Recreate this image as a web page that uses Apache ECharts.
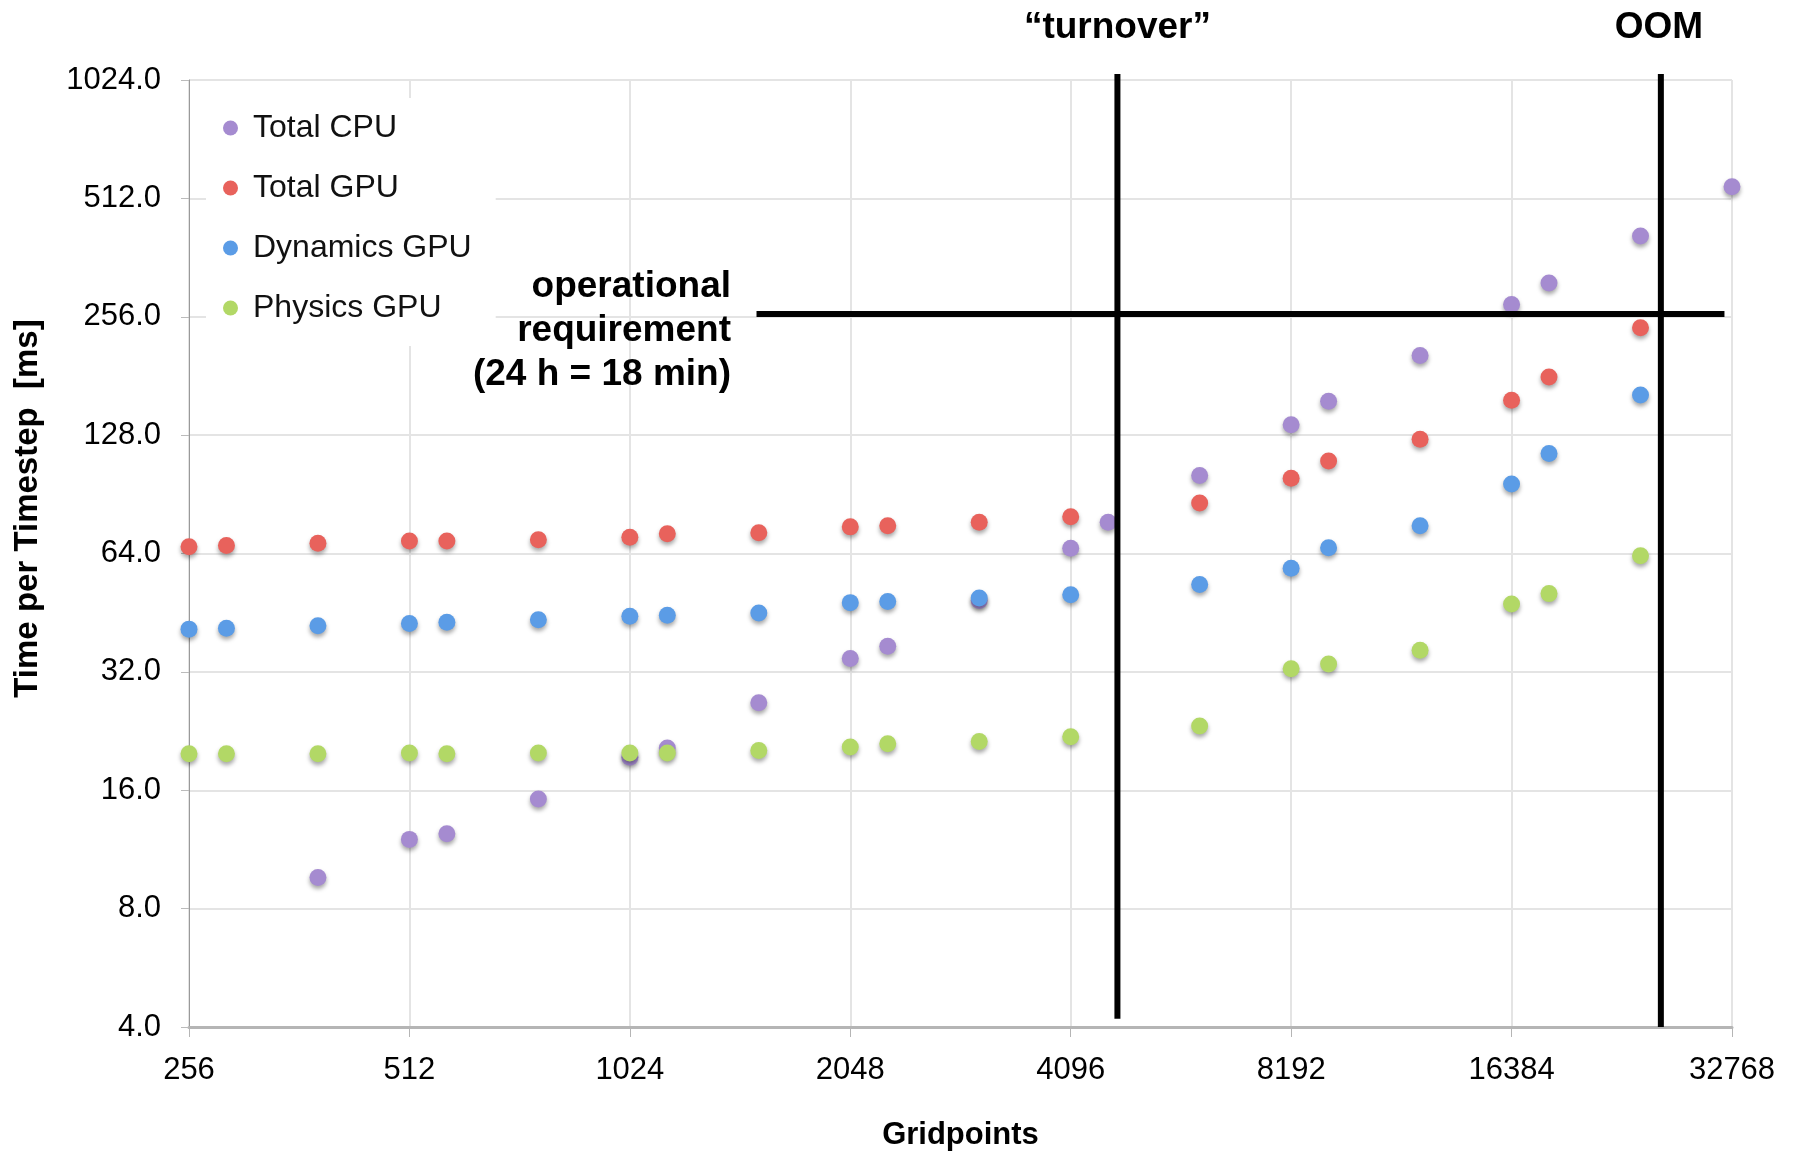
<!DOCTYPE html>
<html>
<head>
<meta charset="utf-8">
<title>Time per Timestep vs Gridpoints</title>
<script src="https://cdn.jsdelivr.net/npm/echarts@6/dist/echarts.min.js"></script>
<style>
  html, body { margin: 0; padding: 0; background: #fff; }
  #chart { width: 1797px; height: 1153px; }
</style>
</head>
<body>
<div id="chart"></div>
<script>
// x values (gridpoints)
const gridpoints = [256, 288, 384, 512, 576, 768, 1024, 1152, 1536, 2048, 2304, 3072, 4096, 4608, 6144, 8192, 9216, 12288, 16384, 18432, 24576, 32768]

// time per timestep [ms], null = no point
const totalCpu    = [null, null, 9.6, 12.0, 12.4, 15.2, 19.4, 20.5, 26.7, 34.6, 37.2, 48.6, 66.0, 76.8, 101, 136, 156, 204, 275, 312, 411, 548]
const totalGpu    = [66.6, 67.1, 68.0, 68.9, 68.9, 69.4, 70.4, 71.8, 72.3, 74.8, 75.3, 76.8, 79.4, null, 86.0, 99.5, 110, 125, 157, 180, 240, null]
const dynamicsGpu = [41.1, 41.3, 41.9, 42.5, 42.8, 43.4, 44.3, 44.6, 45.2, 48.0, 48.3, 49.3, 50.3, null, 53.4, 58.7, 66.2, 75.3, 96.2, 115, 162, null]
const physicsGpu  = [19.8, 19.8, 19.8, 19.9, 19.8, 19.9, 19.9, 19.9, 20.2, 20.6, 21.0, 21.3, 21.9, null, 23.3, 32.6, 33.5, 36.3, 47.6, 50.6, 63.2, null]

const seriesNames = ['Total CPU', 'Total GPU', 'Dynamics GPU', 'Physics GPU']
const seriesValues = [totalCpu, totalGpu, dynamicsGpu, physicsGpu]
const colors = ['#a58bd0', '#e8625c', '#5b9ce6', '#b2d866']

// annotation positions (data units)
const requirementLevel = 260
const requirementFrom = 1525
const requirementTo = 32000
const turnoverX = 4744
const oomX = 26200

const FONT = '"Liberation Sans", Arial, Helvetica, sans-serif'

const chart = echarts.init(document.getElementById('chart'))

// pair up x/y, drop missing values
const toPairs = (vals) => gridpoints
  .map((g, i) => [g, vals[i]])
  .filter(p => p[1] !== null)

chart.setOption({
  animation: false,
  color: colors,
  grid: { left: 189, right: 65, top: 80, bottom: 126, outerBoundsMode: 'none' },
  legend: {
    orient: 'vertical',
    left: 206,
    top: 98,
    padding: [14, 24, 22, 17],
    backgroundColor: '#fff',
    icon: 'circle',
    itemWidth: 15,
    itemHeight: 15,
    itemGap: 28,
    z: 10,
    textStyle: {
      fontFamily: FONT,
      fontSize: 32,
      color: '#111',
      lineHeight: 32,
      padding: [0, 0, 0, 10]
    },
    data: seriesNames
  },
  xAxis: {
    type: 'log',
    logBase: 2,
    min: 256,
    max: 32768,
    interval: 1,
    name: 'Gridpoints',
    nameLocation: 'middle',
    nameGap: 93,
    nameTextStyle: { fontFamily: FONT, fontSize: 31, fontWeight: 'bold', color: '#000' },
    axisLine: { lineStyle: { color: '#b5b5b5', width: 3 } },
    axisTick: { show: true, length: 10, lineStyle: { color: '#b5b5b5', width: 1 } },
    axisLabel: {
      fontFamily: FONT, fontSize: 31, color: '#000', margin: 28,
      formatter: v => String(Math.round(v))
    },
    splitLine: { show: true, lineStyle: { color: '#e4e4e4', width: 2 } }
  },
  yAxis: {
    type: 'log',
    logBase: 2,
    min: 4,
    max: 1024,
    interval: 1,
    name: 'Time per Timestep  [ms]',
    nameLocation: 'middle',
    nameRotate: 90,
    nameGap: 145,
    nameTextStyle: {
      fontFamily: FONT, fontSize: 33, fontWeight: 'bold', color: '#000',
      padding: [0, 0, 0, 90]
    },
    axisLine: { show: true, lineStyle: { color: '#9a9a9a', width: 1 } },
    axisTick: { show: true, length: 8, lineStyle: { color: '#bbb' } },
    axisLabel: {
      fontFamily: FONT, fontSize: 31, color: '#000', margin: 28,
      formatter: v => Number(v).toFixed(1)
    },
    splitLine: { show: true, lineStyle: { color: '#e4e4e4', width: 2 } }
  },
  series: seriesNames.map((name, i) => ({
    name: name,
    type: 'scatter',
    symbol: 'circle',
    symbolSize: 17,
    data: toPairs(seriesValues[i]),
    itemStyle: {
      color: colors[i],
      opacity: 1,
      shadowBlur: 4,
      shadowOffsetY: 3,
      shadowColor: 'rgba(0,0,0,0.35)'
    }
  }))
})

// annotation lines and texts, placed through the grid's own scales
const px = (x, y) => chart.convertToPixel({ gridIndex: 0 }, [x, y])
const reqA = px(requirementFrom, requirementLevel)
const reqB = px(requirementTo, requirementLevel)
const turnTop = px(turnoverX, 1024)
const turnBot = px(turnoverX, 4.2)
const oomTop = px(oomX, 1024)
const oomBot = px(oomX, 4)

const boldText = (x, y, text, align) => ({
  type: 'text',
  x: x,
  y: y,
  z: 20,
  style: {
    text: text,
    fontFamily: FONT,
    fontSize: 37,
    fontWeight: 'bold',
    fill: '#000',
    align: align,
    verticalAlign: 'middle'
  }
})

chart.setOption({
  graphic: [
    {
      type: 'line', z: 15,
      shape: { x1: reqA[0], y1: reqA[1], x2: reqB[0], y2: reqB[1] },
      style: { stroke: '#000', lineWidth: 6 }
    },
    {
      type: 'line', z: 15,
      shape: { x1: turnTop[0], y1: turnTop[1] - 6, x2: turnBot[0], y2: turnBot[1] },
      style: { stroke: '#000', lineWidth: 6 }
    },
    {
      type: 'line', z: 15,
      shape: { x1: oomTop[0], y1: oomTop[1] - 6, x2: oomBot[0], y2: oomBot[1] },
      style: { stroke: '#000', lineWidth: 6 }
    },
    boldText(turnTop[0], 28, '\u201Cturnover\u201D', 'center'),
    boldText(oomTop[0] - 2, 28, 'OOM', 'center'),
    boldText(731, 287, 'operational', 'right'),
    boldText(731, 331, 'requirement', 'right'),
    boldText(731, 375, '(24 h = 18 min)', 'right')
  ]
})
</script>
</body>
</html>
